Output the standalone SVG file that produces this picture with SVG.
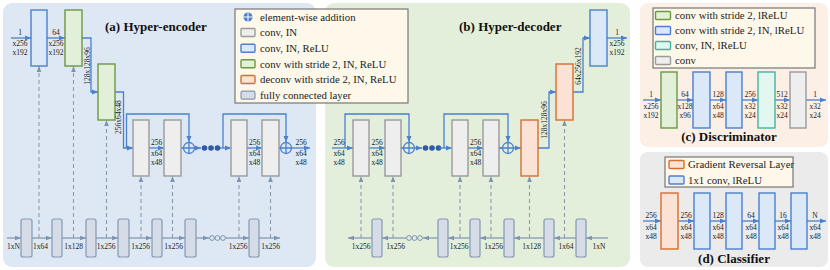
<svg xmlns="http://www.w3.org/2000/svg" width="830" height="270" viewBox="0 0 830 270">
<defs>
<style>
.t{font-family:"Liberation Serif","Times New Roman",serif;fill:#222}
.s{font-size:7.5px;text-anchor:middle}
.lg{font-size:10.8px}
.ti{font-size:13px;font-weight:bold;fill:#111}
.blue{fill:#dbe8f7;stroke:#4a80cc;stroke-width:1.4}
.green{fill:#e2efd9;stroke:#6b9a3f;stroke-width:1.4}
.gray{fill:#eeeeee;stroke:#9b9b9b;stroke-width:1.4}
.orange{fill:#fbe2d5;stroke:#d6702f;stroke-width:1.4}
.teal{fill:#e3f6ef;stroke:#45b39d;stroke-width:1.4}
.fc{fill:#d5dce7;stroke:#8598b3;stroke-width:1.2}
.flow{fill:none;stroke:#4a80d0;stroke-width:1.3;marker-end:url(#ab)}
.skip{fill:none;stroke:#4a80d0;stroke-width:1.3;marker-end:url(#ab)}
.fl{fill:none;stroke:#7f93ae;stroke-width:1.2;marker-end:url(#ag)}
.dash{fill:none;stroke:#8d9bb0;stroke-width:1.1;stroke-dasharray:4 3;marker-end:url(#ag)}
.plus{fill:none;stroke:#4a80d0;stroke-width:1.3}
.dot{fill:#2f5aa6}
.hol{fill:none;stroke:#7f93ae;stroke-width:1}
.leg{fill:#fdf8ea;stroke:#777;stroke-width:1.2}
</style>
<marker id="ab" markerUnits="userSpaceOnUse" markerWidth="6" markerHeight="6" refX="6" refY="3" orient="auto"><path d="M0,0.5 L6,3 L0,5.5 z" fill="#4a80d0"/></marker>
<marker id="ag" markerUnits="userSpaceOnUse" markerWidth="6" markerHeight="6" refX="6" refY="3" orient="auto"><path d="M0,0.7 L6,3 L0,5.3 z" fill="#7f93ae"/></marker>
</defs>

<!-- panels -->
<rect x="3" y="3" width="313" height="264" rx="9" fill="#dde8f4"/>
<rect x="325" y="3" width="305" height="264" rx="9" fill="#e3efdb"/>
<rect x="640" y="3" width="188" height="144" rx="8" fill="#fcefe6"/>
<rect x="640" y="152" width="188" height="115" rx="8" fill="#ebebeb"/>

<text class="t ti" x="105" y="31">(a) Hyper-encoder</text>
<text class="t ti" x="459" y="31">(b) Hyper-decoder</text>
<text class="t ti" x="729" y="141" text-anchor="middle">(c) Discriminator</text>
<text class="t ti" x="734" y="263" text-anchor="middle">(d) Classifier</text>

<!-- legend main -->
<g id="legend">
<rect class="leg" x="235" y="9" width="173" height="94"/>
<circle cx="248" cy="17" r="4.5" fill="#4a80d0"/>
<path d="M243.5,17 H252.5 M248,12.5 V21.5" stroke="#fff" stroke-width="1"/>
<rect class="gray" x="241" y="28.5" width="14" height="8" rx="1"/>
<rect class="blue" x="241" y="44.2" width="14" height="8" rx="1"/>
<rect class="green" x="241" y="59.8" width="14" height="8" rx="1"/>
<rect class="orange" x="241" y="75.5" width="14" height="8" rx="1"/>
<rect class="fc" x="241" y="91.2" width="14" height="8" rx="1.5"/>
<text class="t lg" x="260" y="20.7">element-wise addition</text>
<text class="t lg" x="260" y="36.3">conv, IN</text>
<text class="t lg" x="260" y="52">conv, IN, ReLU</text>
<text class="t lg" x="260" y="67.6">conv with stride 2, IN, ReLU</text>
<text class="t lg" x="260" y="83.3">deconv with stride 2, IN, ReLU</text>
<text class="t lg" x="260" y="98.9">fully connected layer</text>
</g>

<!-- ===== Encoder connectors ===== -->
<g id="enc-connectors">
<path class="flow" d="M11,38 H31"/>
<path class="flow" d="M47,38 H65"/>
<path class="flow" d="M82,38 H91 V92 H98"/>
<path class="flow" d="M115,92 H123.5 V148 H133"/>
<path class="skip" d="M126.5,148 V114 H189 V142"/>
<path class="flow" d="M149,148 H164"/>
<path class="flow" d="M181,148 H183.5"/>
<path class="flow" d="M194.5,148 H201"/>
<path class="flow" d="M218,148 H231"/>
<path class="skip" d="M223,148 V114 H286 V142"/>
<path class="flow" d="M247,148 H262"/>
<path class="flow" d="M279,148 H280.5"/>
<path class="flow" d="M291.5,148 H310"/>
<circle class="dot" cx="204.5" cy="148" r="2.8"/>
<circle class="dot" cx="211" cy="148" r="2.8"/>
<circle class="dot" cx="217.5" cy="148" r="2.8"/>
<!-- FC row -->
<path class="fl" d="M7,238 H21"/>
<path class="fl" d="M32,238 H52"/>
<path class="fl" d="M62,238 H86"/>
<path class="fl" d="M96,238 H118"/>
<path class="fl" d="M129,238 H152"/>
<path class="fl" d="M162,238 H185"/>
<path class="fl" d="M196,238 H209"/>
<circle class="hol" cx="212" cy="238" r="2.4"/>
<circle class="hol" cx="217.5" cy="238" r="2.4"/>
<circle class="hol" cx="223" cy="238" r="2.4"/>
<path class="fl" d="M225.5,238 H249"/>
<path class="fl" d="M259,238 H280"/>
<!-- dashed -->
<path class="dash" d="M39,238 V66"/>
<path class="dash" d="M73.5,238 V66"/>
<path class="dash" d="M106.5,238 V120"/>
<path class="dash" d="M141,238 V176"/>
<path class="dash" d="M172.5,238 V176"/>
<path class="dash" d="M239,238 V176"/>
<path class="dash" d="M270.5,238 V176"/>
</g>

<!-- ===== Encoder nodes ===== -->
<g id="enc-b1"><rect class="blue" x="31" y="10" width="16" height="56"/></g>
<g id="enc-b2"><rect class="green" x="65" y="10" width="17" height="56"/></g>
<g id="enc-b3"><rect class="green" x="98" y="64" width="17" height="56"/></g>
<g id="enc-b4"><rect class="gray" x="133" y="120" width="16" height="56"/></g>
<g id="enc-b5"><rect class="gray" x="164" y="120" width="17" height="56"/></g>
<g id="enc-p1"><circle class="plus" cx="189" cy="148" r="5.5"/><path class="plus" d="M183.5,148 H194.5 M189,142.5 V153.5"/></g>
<g id="enc-b6"><rect class="gray" x="231" y="120" width="16" height="56"/></g>
<g id="enc-b7"><rect class="gray" x="262" y="120" width="17" height="56"/></g>
<g id="enc-p2"><circle class="plus" cx="286" cy="148" r="5.5"/><path class="plus" d="M280.5,148 H291.5 M286,142.5 V153.5"/></g>
<g id="enc-fc">
<rect class="fc" x="21" y="219" width="11" height="38" rx="2"/>
<rect class="fc" x="52" y="219" width="10" height="38" rx="2"/>
<rect class="fc" x="86" y="219" width="10" height="38" rx="2"/>
<rect class="fc" x="118" y="219" width="11" height="38" rx="2"/>
<rect class="fc" x="152" y="219" width="10" height="38" rx="2"/>
<rect class="fc" x="185" y="219" width="11" height="38" rx="2"/>
<rect class="fc" x="249" y="219" width="10" height="38" rx="2"/>
</g>

<!-- encoder labels -->
<g id="enc-labels">
<text class="t s" x="20" y="35">1</text><text class="t s" x="20" y="46">x256</text><text class="t s" x="20" y="55">x192</text>
<text class="t s" x="56" y="35">64</text><text class="t s" x="56" y="46">x256</text><text class="t s" x="56" y="55">x192</text>
<text class="t s" transform="translate(89.5,66) rotate(-90)">128x128x96</text>
<text class="t s" transform="translate(121,117) rotate(-90)">256x64x48</text>
<text class="t s" x="156.5" y="145">256</text><text class="t s" x="156.5" y="156">x64</text><text class="t s" x="156.5" y="165">x48</text>
<text class="t s" x="254.5" y="145">256</text><text class="t s" x="254.5" y="156">x64</text><text class="t s" x="254.5" y="165">x48</text>
<text class="t s" x="301" y="145">256</text><text class="t s" x="301" y="156">x64</text><text class="t s" x="301" y="165">x48</text>
<text class="t s" x="13.5" y="249">1xN</text>
<text class="t s" x="40.5" y="249">1x64</text>
<text class="t s" x="73.5" y="249">1x128</text>
<text class="t s" x="106" y="249">1x256</text>
<text class="t s" x="140.5" y="249">1x256</text>
<text class="t s" x="173.5" y="249">1x256</text>
<text class="t s" x="238" y="249">1x256</text>
<text class="t s" x="270.5" y="249">1x256</text>
</g>

<!-- ===== Decoder connectors ===== -->
<g id="dec-connectors">
<path class="flow" d="M332,148 H353"/>
<path class="skip" d="M345,148 V114 H409 V142"/>
<path class="flow" d="M369,148 H385"/>
<path class="flow" d="M401,148 H403.5"/>
<path class="flow" d="M414.5,148 H422"/>
<circle class="dot" cx="425.5" cy="148" r="2.8"/>
<circle class="dot" cx="432" cy="148" r="2.8"/>
<circle class="dot" cx="438.5" cy="148" r="2.8"/>
<path class="flow" d="M439,148 H452"/>
<path class="skip" d="M444,148 V114 H508 V142"/>
<path class="flow" d="M468,148 H483"/>
<path class="flow" d="M499,148 H502.5"/>
<path class="flow" d="M513.5,148 H521"/>
<path class="flow" d="M538,148 H549 V92 H556"/>
<path class="flow" d="M573,92 H583 V38 H590"/>
<path class="flow" d="M607,38 H627"/>
<!-- FC row -->
<path class="fl" d="M608,238 H586"/>
<path class="fl" d="M576,238 H554"/>
<path class="fl" d="M544,238 H514"/>
<path class="fl" d="M504,238 H480"/>
<path class="fl" d="M470,238 H448"/>
<path class="fl" d="M438,238 H423"/>
<circle class="hol" cx="420" cy="238" r="2.4"/>
<circle class="hol" cx="414.5" cy="238" r="2.4"/>
<circle class="hol" cx="409" cy="238" r="2.4"/>
<path class="fl" d="M406.5,238 H382"/>
<path class="fl" d="M372,238 H348"/>
<!-- dashed -->
<path class="dash" d="M361,238 V176"/>
<path class="dash" d="M393,238 V176"/>
<path class="dash" d="M460,238 V176"/>
<path class="dash" d="M491,238 V176"/>
<path class="dash" d="M529.5,238 V176"/>
<path class="dash" d="M564.5,238 V120"/>
</g>

<!-- ===== Decoder nodes ===== -->
<g id="dec-d1"><rect class="gray" x="353" y="120" width="16" height="56"/></g>
<g id="dec-d2"><rect class="gray" x="385" y="120" width="16" height="56"/></g>
<g id="dec-p1"><circle class="plus" cx="409" cy="148" r="5.5"/><path class="plus" d="M403.5,148 H414.5 M409,142.5 V153.5"/></g>
<g id="dec-d3"><rect class="gray" x="452" y="120" width="16" height="56"/></g>
<g id="dec-d4"><rect class="gray" x="483" y="120" width="16" height="56"/></g>
<g id="dec-p2"><circle class="plus" cx="508" cy="148" r="5.5"/><path class="plus" d="M502.5,148 H513.5 M508,142.5 V153.5"/></g>
<g id="dec-d5"><rect class="orange" x="521" y="120" width="17" height="56"/></g>
<g id="dec-d6"><rect class="orange" x="556" y="64" width="17" height="56"/></g>
<g id="dec-d7"><rect class="blue" x="590" y="10" width="17" height="56"/></g>
<g id="dec-fc">
<rect class="fc" x="372" y="219" width="10" height="38" rx="2"/>
<rect class="fc" x="438" y="219" width="10" height="38" rx="2"/>
<rect class="fc" x="470" y="219" width="10" height="38" rx="2"/>
<rect class="fc" x="504" y="219" width="10" height="38" rx="2"/>
<rect class="fc" x="544" y="219" width="10" height="38" rx="2"/>
<rect class="fc" x="576" y="219" width="10" height="38" rx="2"/>
</g>

<g id="dec-labels">
<text class="t s" x="339" y="145">256</text><text class="t s" x="339" y="156">x64</text><text class="t s" x="339" y="165">x48</text>
<text class="t s" x="377" y="145">256</text><text class="t s" x="377" y="156">x64</text><text class="t s" x="377" y="165">x48</text>
<text class="t s" x="475.5" y="145">256</text><text class="t s" x="475.5" y="156">x64</text><text class="t s" x="475.5" y="165">x48</text>
<text class="t s" transform="translate(546.5,120) rotate(-90)">128x128x96</text>
<text class="t s" transform="translate(581,66) rotate(-90)">64x256x192</text>
<text class="t s" x="617" y="35">1</text><text class="t s" x="617" y="46">x256</text><text class="t s" x="617" y="55">x192</text>
<text class="t s" x="361" y="249">1x256</text>
<text class="t s" x="395.5" y="249">1x256</text>
<text class="t s" x="459" y="249">1x256</text>
<text class="t s" x="493.5" y="249">1x256</text>
<text class="t s" x="531.5" y="249">1x128</text>
<text class="t s" x="566" y="249">1x64</text>
<text class="t s" x="599" y="249">1xN</text>
</g>

<!-- ===== Discriminator ===== -->
<g id="disc-legend">
<rect class="leg" x="653" y="8" width="162" height="60"/>
<rect class="green" x="655.5" y="11.5" width="15" height="8" rx="1"/>
<rect class="blue" x="655.5" y="26.5" width="15" height="8" rx="1"/>
<rect class="teal" x="655.5" y="41.5" width="15" height="8" rx="1"/>
<rect class="gray" x="655.5" y="56.5" width="15" height="8" rx="1"/>
<text class="t lg" x="675" y="19.2">conv with stride 2, lReLU</text>
<text class="t lg" x="675" y="34.2">conv with stride 2, IN, lReLU</text>
<text class="t lg" x="675" y="49.2">conv, IN, lReLU</text>
<text class="t lg" x="675" y="64.2">conv</text>
</g>
<g id="disc-connectors">
<path class="flow" d="M643,100 H661"/>
<path class="flow" d="M677,100 H693"/>
<path class="flow" d="M710,100 H726"/>
<path class="flow" d="M742,100 H758"/>
<path class="flow" d="M775,100 H790"/>
<path class="flow" d="M806,100 H826"/>
</g>
<g id="disc-c1"><rect class="green" x="661" y="72" width="16" height="56"/></g>
<g id="disc-c2"><rect class="blue" x="693" y="72" width="17" height="56"/></g>
<g id="disc-c3"><rect class="blue" x="726" y="72" width="16" height="56"/></g>
<g id="disc-c4"><rect class="teal" x="758" y="72" width="17" height="56"/></g>
<g id="disc-c5"><rect class="gray" x="790" y="72" width="16" height="56"/></g>
<g id="disc-labels">
<text class="t s" x="651" y="97">1</text><text class="t s" x="651" y="108.5">x256</text><text class="t s" x="651" y="117.5">x192</text>
<text class="t s" x="685" y="97">64</text><text class="t s" x="685" y="108.5">x128</text><text class="t s" x="685" y="117.5">x96</text>
<text class="t s" x="718" y="97">128</text><text class="t s" x="718" y="108.5">x64</text><text class="t s" x="718" y="117.5">x48</text>
<text class="t s" x="750" y="97">256</text><text class="t s" x="750" y="108.5">x32</text><text class="t s" x="750" y="117.5">x24</text>
<text class="t s" x="782" y="97">512</text><text class="t s" x="782" y="108.5">x32</text><text class="t s" x="782" y="117.5">x24</text>
<text class="t s" x="815" y="97">1</text><text class="t s" x="815" y="108.5">x32</text><text class="t s" x="815" y="117.5">x24</text>
</g>

<!-- ===== Classifier ===== -->
<g id="cls-legend">
<rect class="leg" x="665" y="157" width="128" height="30"/>
<rect class="orange" x="669" y="160.5" width="15" height="8" rx="1"/>
<rect class="blue" x="669" y="176" width="15" height="8" rx="1"/>
<text class="t lg" x="688" y="168.2">Gradient Reversal Layer</text>
<text class="t lg" x="688" y="183.7">1x1 conv, lReLU</text>
</g>
<g id="cls-connectors">
<path class="flow" d="M643,221 H661"/>
<path class="flow" d="M678,221 H694"/>
<path class="flow" d="M710,221 H726"/>
<path class="flow" d="M742,221 H759"/>
<path class="flow" d="M775,221 H791"/>
<path class="flow" d="M807,221 H826"/>
</g>
<g id="cls-g"><rect class="orange" x="661" y="193" width="17" height="56"/></g>
<g id="cls-c1"><rect class="blue" x="694" y="193" width="16" height="56"/></g>
<g id="cls-c2"><rect class="blue" x="726" y="193" width="16" height="56"/></g>
<g id="cls-c3"><rect class="blue" x="759" y="193" width="16" height="56"/></g>
<g id="cls-c4"><rect class="blue" x="791" y="193" width="16" height="56"/></g>
<g id="cls-labels">
<text class="t s" x="651" y="218">256</text><text class="t s" x="651" y="229.5">x64</text><text class="t s" x="651" y="238.5">x48</text>
<text class="t s" x="686" y="218">256</text><text class="t s" x="686" y="229.5">x64</text><text class="t s" x="686" y="238.5">x48</text>
<text class="t s" x="718" y="218">128</text><text class="t s" x="718" y="229.5">x64</text><text class="t s" x="718" y="238.5">x48</text>
<text class="t s" x="751" y="218">64</text><text class="t s" x="751" y="229.5">x64</text><text class="t s" x="751" y="238.5">x48</text>
<text class="t s" x="783" y="218">16</text><text class="t s" x="783" y="229.5">x64</text><text class="t s" x="783" y="238.5">x48</text>
<text class="t s" x="815" y="218">N</text><text class="t s" x="815" y="229.5">x64</text><text class="t s" x="815" y="238.5">x48</text>
</g>
</svg>
